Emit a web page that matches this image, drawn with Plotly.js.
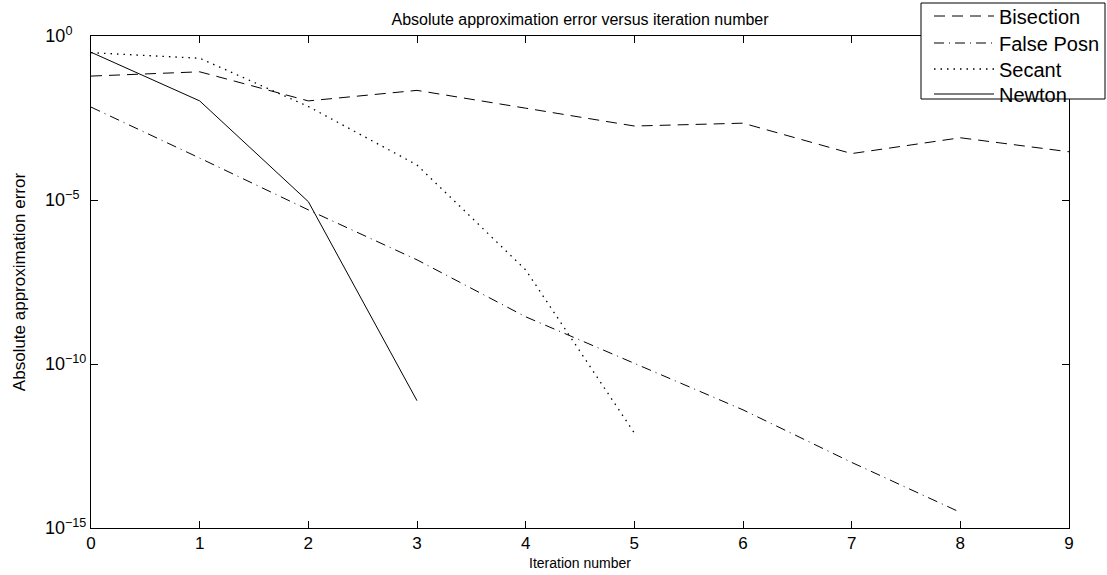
<!DOCTYPE html>
<html>
<head>
<meta charset="utf-8">
<script src="https://cdn.plot.ly/plotly-3.0.1.min.js"></script>
<style>html,body{margin:0;padding:0;background:#fff;}#chart{width:1107px;height:575px;}</style>
</head>
<body>
<div id="chart"></div>
<script>
// Iteration numbers
const itersBisection = [0, 1, 2, 3, 4, 5, 6, 7, 8, 9];
const itersFalsePosn = [0, 1, 2, 3, 4, 5, 6, 7, 8];
const itersSecant = [0, 1, 2, 3, 4, 5];
const itersNewton = [0, 1, 2, 3];

// Absolute approximation errors
const errBisection = [6.0e-2, 8.1e-2, 1.05e-2, 2.2e-2, 6.3e-3, 1.8e-3, 2.2e-3, 2.6e-4, 7.9e-4, 2.95e-4];
const errFalsePosn = [6.8e-3, 1.9e-4, 5.0e-6, 1.5e-7, 2.75e-9, 1.07e-10, 4.0e-12, 1.0e-13, 3.0e-15];
const errSecant = [3.1e-1, 2.1e-1, 7.1e-3, 1.17e-4, 7.4e-8, 7.9e-13];
const errNewton = [3.2e-1, 1.05e-2, 8.9e-6, 7.6e-12];

const seriesNames = ["Bisection", "False Posn", "Secant", "Newton"];
const xTickVals = [0, 1, 2, 3, 4, 5, 6, 7, 8, 9];
const yTickVals = [1, 1e-5, 1e-10, 1e-15];
const NB = "\u00A0";
const yTickText = ["10<sup>0" + NB.repeat(4) + "</sup>", "10<sup>−5" + NB.repeat(2) + "</sup>",
                   "10<sup>−10</sup>", "10<sup>−15</sup>"];

const FONT = "Liberation Sans, Arial, Helvetica, sans-serif";

// plot area in pixels (for converting the legend placement)
const PL = 91, PR = 1069, PT = 36, PB = 528;
const px2x = p => (p - PL) / (PR - PL);
const px2y = p => (PB - p) / (PB - PT);
const legendRows = [16, 43, 69, 94];
const legendIds = ["legend", "legend2", "legend3", "legend4"];

const traces = [
  {x: itersBisection, y: errBisection, name: seriesNames[0],
   line: {color: "#000", width: 1, dash: "11px,7px"}},
  {x: itersFalsePosn, y: errFalsePosn, name: seriesNames[1],
   line: {color: "#000", width: 1, dash: "10px,5px,1px,5px"}},
  {x: itersSecant, y: errSecant, name: seriesNames[2],
   line: {color: "#000", width: 1.3, dash: "1.5px,5px"}},
  {x: itersNewton, y: errNewton, name: seriesNames[3],
   line: {color: "#000", width: 1}}
].map((t, i) => Object.assign({type: "scatter", mode: "lines", legend: legendIds[i]}, t));

const layout = {
  width: 1107, height: 575,
  margin: {l: PL, r: 1107 - PR, t: PT, b: 575 - PB, autoexpand: false},
  paper_bgcolor: "#fff", plot_bgcolor: "#fff",
  font: {family: FONT, size: 14, color: "#000"},
  title: {text: "Absolute approximation error versus iteration number",
          font: {family: FONT, size: 16, color: "#000"},
          x: 0.524, xanchor: "center", y: 1 - 19/575, yanchor: "middle", yref: "container", xref: "container"},
  xaxis: {range: [0, 9], tickvals: xTickVals, ticks: "inside", ticklen: 7, tickcolor: "#000",
          showline: true, linecolor: "#000", linewidth: 1, mirror: "allticks",
          showgrid: false, zeroline: false, automargin: false,
          tickfont: {family: FONT, size: 17, color: "#000"},
          title: {text: "Iteration number", font: {family: FONT, size: 14, color: "#000"}, standoff: 5}},
  yaxis: {type: "log", range: [-15, 0], tickvals: yTickVals, ticktext: yTickText,
          ticks: "inside", ticklen: 7, tickcolor: "#000",
          showline: true, linecolor: "#000", linewidth: 1, mirror: "allticks",
          showgrid: false, zeroline: false, automargin: false,
          tickfont: {family: FONT, size: 18, color: "#000"},
          title: {text: "Absolute approximation error", font: {family: FONT, size: 17, color: "#000"}, standoff: 15}},
  showlegend: true,
  shapes: [{type: "rect", xref: "paper", yref: "paper", layer: "above",
            x0: px2x(921), x1: px2x(1105), y0: px2y(99), y1: px2y(3),
            line: {color: "#000", width: 1}, fillcolor: "#fff"}]
};
legendIds.forEach((id, i) => {
  layout[id] = {x: px2x(929), y: px2y(legendRows[i]), xanchor: "left", yanchor: "middle",
                bgcolor: "rgba(0,0,0,0)", borderwidth: 0,
                font: {family: FONT, size: 20, color: "#000"}, itemwidth: 60};
});

Plotly.newPlot("chart", traces, layout, {displayModeBar: false, staticPlot: true});
</script>
</body>
</html>
